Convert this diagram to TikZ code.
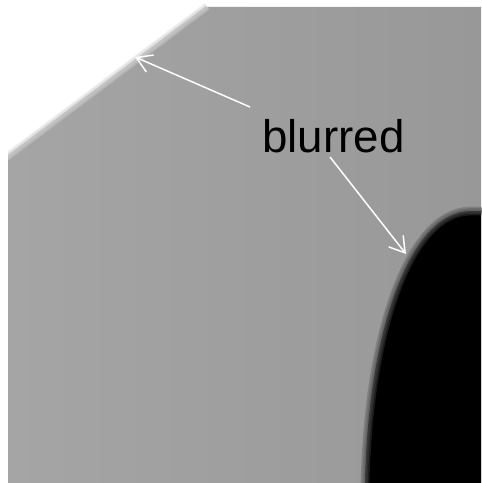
\documentclass[tikz,border=0pt]{standalone}
\usepackage{fontspec}
\setmainfont{Liberation Sans}
\usetikzlibrary{arrows.meta,positioning}
\definecolor{tissuelight}{HTML}{A5A5A5}
\definecolor{tissuedark}{HTML}{989898}
\definecolor{edgeblur}{HTML}{D0D0D0}
\definecolor{coreblur}{HTML}{505050}
\tikzset{
    pointer/.style={
        -{Straight Barb[length=8.5pt,width=10.5pt]},
        line width=0.85pt,
        color=white
    },
    softedge/.style={
        draw opacity=0.35,
        line cap=butt
    },
    blurlabel/.style={
        font=\fontsize{26}{30}\selectfont,
        inner sep=0pt,
        text=black
    }
}

\begin{document}
\begin{tikzpicture}[x=0.02cm,y=-0.02cm]

    % Frame
    \useasboundingbox (0,0) rectangle (481,483);
    \fill[white] (0,0) rectangle (481,483);

    % Gray region
    \shade[left color=tissuelight,right color=tissuedark]
        (8,483) -- (8,155) -- (205,7) -- (481,7)
        -- (481,483) -- cycle;

    % Blurred outer edge
    \begin{scope}
        \clip (8,0) rectangle (481,483);
        \foreach \w in {4.5,3,1.5}
            \draw[softedge,edgeblur,line width=\w pt]
                (6,157.5) -- (207,6.5);
    \end{scope}

    % Black core
    \fill[black]
        (365,483)
        .. controls (368,330) and (410,212) .. (470,211)
        -- (481,211) -- (481,483) -- cycle;

    % Blurred core edge
    \foreach \w in {5,3.2,1.5}
        \draw[softedge,coreblur,line width=\w pt]
            (365,486)
            .. controls (368,330) and (410,212) .. (470,211)
            -- (484,211);

    % Label
    \node[blurlabel,anchor=base]
        (lbl) at (333.5,152)
        {blurred};

    \coordinate (tailA) at (250,107);
    \coordinate (tipA) at (135,57);
    \coordinate (tailB) at (330,157);
    \coordinate (tipB) at (406,254);

    % Arrows
    \draw[pointer] (tailA) -- (tipA);
    \draw[pointer] (tailB) -- (tipB);

\end{tikzpicture}
\end{document}
